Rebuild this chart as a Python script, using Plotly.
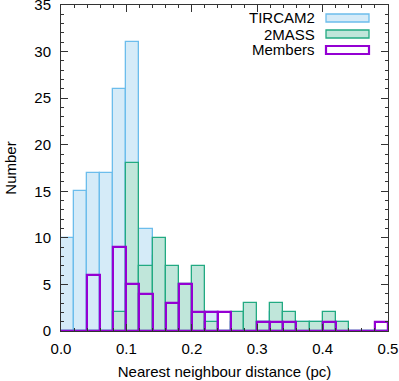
import plotly.graph_objects as go

# histogram bins, width 0.02 pc
bin_width = 0.02
bin_left = [round(i * bin_width, 2) for i in range(25)]

tircam2 = [10, 15, 17, 17, 26, 31, 11, 8, 6, 4, 3, 2, 0, 1, 2, 1, 2, 1, 1, 1, 1, 1, 0, 0, 0]
twomass = [0, 0, 0, 0, 2, 18, 7, 10, 7, 5, 7, 1, 0, 2, 3, 1, 3, 2, 1, 1, 2, 1, 0, 0, 0]
members = [0, 0, 6, 0, 9, 5, 4, 0, 3, 5, 2, 2, 2, 0, 0, 1, 1, 1, 0, 0, 1, 0, 0, 0, 1]

x_ticks = [0.0, 0.1, 0.2, 0.3, 0.4, 0.5]
y_ticks = [0, 5, 10, 15, 20, 25, 30, 35]

x_mid = [b + bin_width / 2 for b in bin_left]

FONT = "Liberation Sans, Arial, sans-serif"

fig = go.Figure()
fig.add_trace(go.Bar(x=x_mid, y=tircam2, width=bin_width, name="TIRCAM2",
                     marker=dict(color="#d5ebf8", line=dict(color="#6cbdec", width=1.3))))
fig.add_trace(go.Bar(x=x_mid, y=twomass, width=bin_width, name="2MASS",
                     marker=dict(color="#c0e6da", line=dict(color="#22aa82", width=1.3))))
fig.add_trace(go.Bar(x=x_mid, y=members, width=bin_width, name="Members",
                     marker=dict(color="rgba(0,0,0,0)", line=dict(color="#9400d3", width=2.2))))

# plot area in pixels (used only to place the hand-made legend)
L, R, T, B = 61, 388, 5, 331
W, H = R - L, B - T

# legend with the swatch on the right, gnuplot style
legend_items = [("TIRCAM2", "#d5ebf8", "#6cbdec", 1.3),
                ("2MASS", "#c0e6da", "#22aa82", 1.3),
                ("Members", "rgba(0,0,0,0)", "#9400d3", 2.2)]
for i, (label, fill, edge, lw) in enumerate(legend_items):
    yc = 18 + 16 * i
    fig.add_annotation(x=(317 - L) / W, y=(B - yc) / H, xref="paper", yref="paper",
                       text=label, showarrow=False, xanchor="right", yanchor="middle",
                       font=dict(family=FONT, size=15, color="#000"))
    fig.add_shape(type="rect", xref="paper", yref="paper",
                  x0=(326 - L) / W, x1=(369 - L) / W,
                  y0=(B - (yc + 4)) / H, y1=(B - (yc - 4)) / H,
                  fillcolor=fill, line=dict(color=edge, width=lw))

axis_common = dict(showline=True, linecolor="#333", linewidth=1, mirror="allticks",
                   ticks="inside", ticklen=7, tickcolor="#333", showgrid=False, zeroline=False,
                   automargin=False, ticklabeloverflow="allow",
                   tickfont=dict(family=FONT, size=15, color="#000"))

fig.update_layout(
    width=399, height=381,
    margin=dict(l=L, r=399 - R, t=T, b=381 - B),
    plot_bgcolor="white", paper_bgcolor="white",
    barmode="overlay", bargap=0, showlegend=False,
    xaxis=dict(range=[0, 0.5], tickvals=x_ticks, ticktext=[f"{v:.1f}" for v in x_ticks],
               minor=dict(dtick=0.02, ticks="inside", ticklen=3, tickcolor="#333"),
               title=dict(text="Nearest neighbour distance (pc)", standoff=10,
                          font=dict(family=FONT, size=15, color="#000")),
               ticklabelstandoff=4,
               **axis_common),
    yaxis=dict(range=[0, 35], tickvals=y_ticks, ticktext=[str(v) for v in y_ticks],
               minor=dict(dtick=1, ticks="inside", ticklen=3, tickcolor="#333"),
               title=dict(text="Number", standoff=14,
                          font=dict(family=FONT, size=15, color="#000")),
               ticklabelstandoff=6,
               **axis_common),
)

# the page's default body margin would shift the figure by 8px
fig.write_html("out.html", config={"displayModeBar": False},
               post_script="document.body.style.margin='0';")
